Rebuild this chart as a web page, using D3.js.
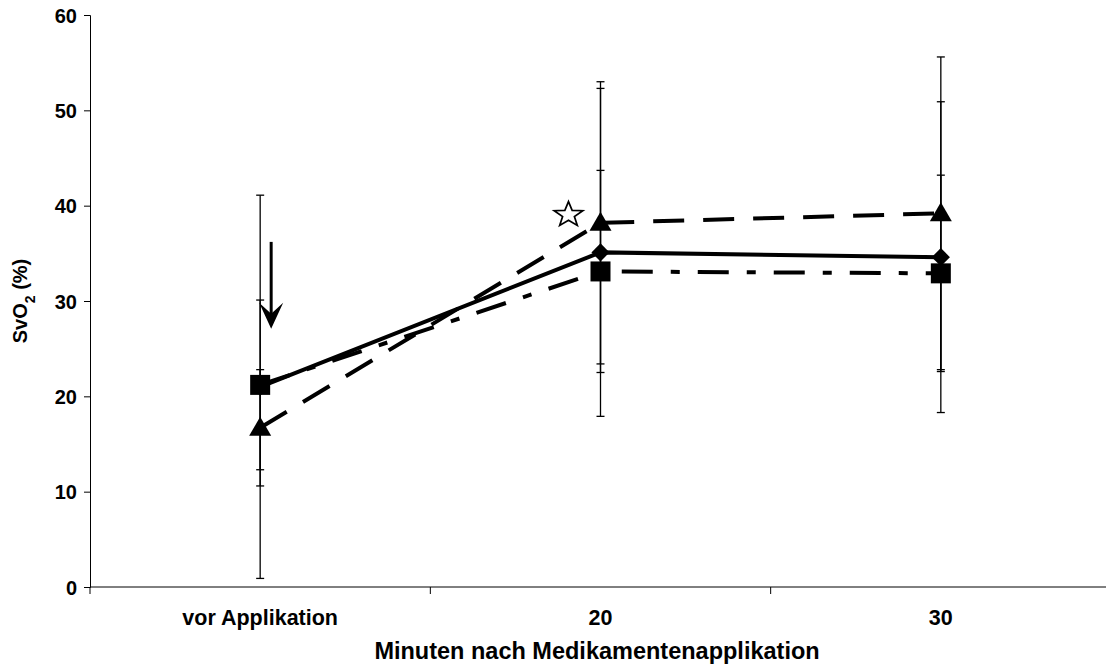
<!DOCTYPE html>
<html>
<head>
<meta charset="utf-8">
<script src="https://cdn.jsdelivr.net/npm/d3@7"></script>
<style>
  html, body { margin: 0; padding: 0; background: #fff; }
  svg text { font-family: "Liberation Sans", Arial, sans-serif; font-weight: bold; fill: #000; }
</style>
</head>
<body>
<svg id="chart" width="1106" height="668"></svg>
<script>
// Time points
const categories = ["vor Applikation", "20", "30"];

// SvO2 mean values (%) and standard deviations per group
const diamondMean = [21.0, 35.1, 34.6];
const diamondSd   = [20.1, 17.2, 16.3];
const squareMean  = [21.2, 33.1, 32.9];
const squareSd    = [8.9, 10.6, 10.3];
const triangleMean = [16.7, 38.2, 39.2];
const triangleSd   = [6.1, 14.8, 16.4];

// Y axis ticks
const yTicks = [0, 10, 20, 30, 40, 50, 60];

// Annotations: arrow at the first time point, star at the second
const arrowValues = [36.2, 27.1];   // from, to
const starValue = 39.2;

const svg = d3.select("#chart");
const plotLeft = 90, plotRight = 1111, plotTop = 15, plotBottom = 587;

const x = d3.scaleBand().domain(categories).range([plotLeft, plotRight]);
const y = d3.scaleLinear().domain([0, 60]).range([plotBottom, plotTop]);
const cx = c => x(c) + x.bandwidth() / 2;

// Y axis
const yAxis = d3.axisLeft(y).tickValues(yTicks).tickSize(6).tickPadding(7);
const gy = svg.append("g").attr("transform", `translate(${plotLeft},0)`).call(yAxis);
gy.select(".domain").attr("stroke", "#000").attr("stroke-width", 1);
gy.selectAll(".tick line").attr("stroke", "#000");
gy.selectAll(".tick text").style("font-size", "20px").attr("dy", "0.35em");

// X axis line with ticks between categories
svg.append("line").attr("x1", plotLeft).attr("x2", 1106).attr("y1", plotBottom).attr("y2", plotBottom)
  .attr("stroke", "#000").attr("stroke-width", 1);
const boundaries = categories.map(c => x(c));
svg.selectAll(".xtick").data(boundaries).join("line")
  .attr("x1", d => d).attr("x2", d => d).attr("y1", plotBottom).attr("y2", plotBottom + 7)
  .attr("stroke", "#000").attr("stroke-width", 1);
svg.selectAll(".xlabel").data(categories).join("text")
  .attr("x", d => cx(d)).attr("y", 625).attr("text-anchor", "middle")
  .style("font-size", "21.5px").text(d => d);

// Axis titles
svg.append("text").attr("x", 597).attr("y", 659).attr("text-anchor", "middle")
  .style("font-size", "23.5px").text("Minuten nach Medikamentenapplikation");
const yt = svg.append("text").attr("transform", `translate(27,${(plotTop + plotBottom) / 2}) rotate(-90)`)
  .attr("text-anchor", "middle").style("font-size", "20px");
yt.append("tspan").text("SvO");
yt.append("tspan").attr("baseline-shift", "sub").style("font-size", "14px").text("2");
yt.append("tspan").text(" (%)");

const series = [
  { mean: diamondMean, sd: diamondSd, dash: null, marker: "diamond" },
  { mean: squareMean, sd: squareSd, dash: "31,18,9,18", marker: "square" },
  { mean: triangleMean, sd: triangleSd, dash: "31,19", marker: "triangle" }
];

// Error bars
series.forEach(s => {
  const g = svg.append("g").attr("stroke", "#000").attr("stroke-width", 1.3);
  categories.forEach((c, i) => {
    const hi = y(s.mean[i] + s.sd[i]), lo = y(Math.max(0, s.mean[i] - s.sd[i]));
    g.append("line").attr("x1", cx(c)).attr("x2", cx(c)).attr("y1", hi).attr("y2", lo);
    [hi, lo].forEach(v => g.append("line").attr("x1", cx(c) - 4).attr("x2", cx(c) + 4)
      .attr("y1", v).attr("y2", v));
  });
});

// Lines
const line = d3.line().x((d, i) => cx(categories[i])).y(d => y(d));
series.forEach(s => {
  svg.append("path").datum(s.mean).attr("d", line).attr("fill", "none")
    .attr("stroke", "#000").attr("stroke-width", 4)
    .attr("stroke-dasharray", s.dash);
});

// Markers
const markerPath = {
  diamond: d3.symbol().type(d3.symbolDiamond2).size(210)(),
  square: d3.symbol().type(d3.symbolSquare).size(400)(),
  triangle: "M0,-11L11,8L-11,8Z"
};
series.forEach(s => {
  svg.selectAll(null).data(s.mean).join("path")
    .attr("d", markerPath[s.marker])
    .attr("transform", (d, i) => `translate(${cx(categories[i])},${y(d)})`)
    .attr("fill", "#000");
});

// Arrow
const ax = cx(categories[0]) + 11;
const a0 = y(arrowValues[0]), a1 = y(arrowValues[1]);
svg.append("line").attr("x1", ax).attr("x2", ax).attr("y1", a0).attr("y2", a1 - 10)
  .attr("stroke", "#000").attr("stroke-width", 3);
svg.append("path")
  .attr("d", `M${ax},${a1}L${ax - 12},${a1 - 26}L${ax},${a1 - 15}L${ax + 12},${a1 - 26}Z`)
  .attr("fill", "#000");

// Star
const sx = cx(categories[1]) - 32, sy = y(starValue);
const starPts = d3.range(10).map(k => {
  const r = k % 2 === 0 ? 15 : 6.2;
  const a = -Math.PI / 2 + k * Math.PI / 5;
  return [sx + r * Math.cos(a), sy + 1.5 + r * Math.sin(a) * 0.88];
});
svg.append("path").attr("d", "M" + starPts.join("L") + "Z")
  .attr("fill", "#fff").attr("stroke", "#000").attr("stroke-width", 1.7);
</script>
</body>
</html>
